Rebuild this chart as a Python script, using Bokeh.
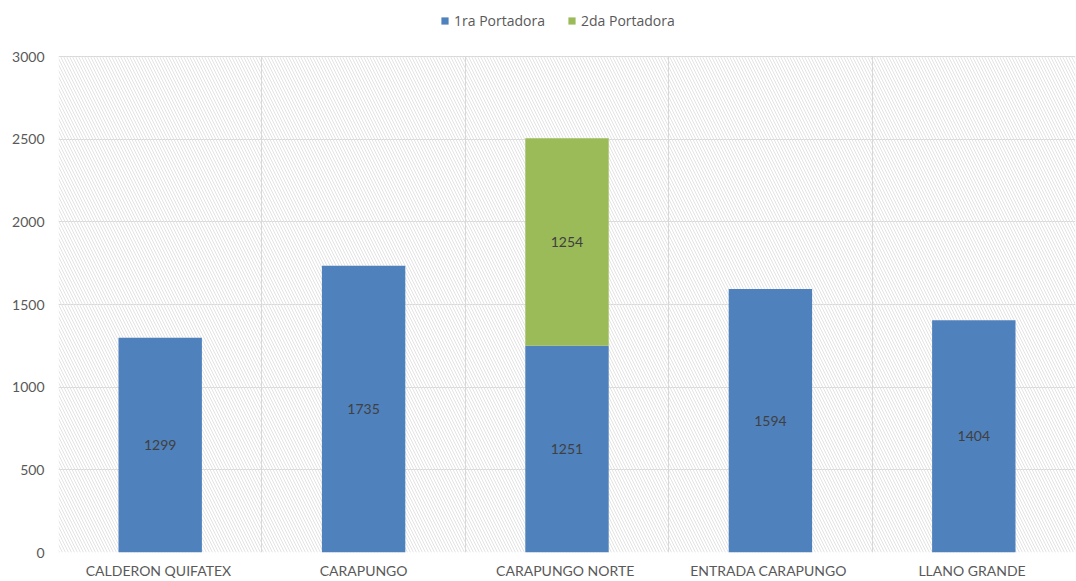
from bokeh.plotting import figure
from bokeh.models import (ColumnDataSource, Legend, LegendItem, FixedTicker, Grid,
                          BoxAnnotation, LabelSet, Range1d)
from bokeh.core.properties import value
from bokeh.embed import file_html
from bokeh.resources import INLINE

categories = ["CALDERON  QUIFATEX", "CARAPUNGO", "CARAPUNGO  NORTE",
              "ENTRADA  CARAPUNGO", "LLANO  GRANDE"]
portadora1 = [1299, 1735, 1251, 1594, 1404]
portadora2 = [0, 0, 1254, 0, 0]
series_names = ["1ra Portadora", "2da Portadora"]
colors = ["#4f81bd", "#9bbb59"]
y_ticks = [0, 500, 1000, 1500, 2000, 2500, 3000]
Y_MAX = 3000

FONT = "Lato"
n = len(categories)
xs = [i + 0.5 for i in range(n)]

# frame extends to the top of the canvas so the legend (drawn in the frame) is visible
FRAME_H = 552
TOP_GAP = 56
y_end = Y_MAX * FRAME_H / (FRAME_H - TOP_GAP)

src = ColumnDataSource(dict(x=xs, p1=portadora1, p2=portadora2))

p = figure(width=1076, height=581, output_backend="svg", toolbar_location=None,
           x_range=Range1d(0, n), y_range=Range1d(0, y_end),
           min_border_left=58, min_border_right=1, min_border_top=0, min_border_bottom=28)
p.outline_line_color = None
p.background_fill_color = "white"
p.border_fill_color = "white"

# hatched plot area
p.add_layout(BoxAnnotation(left=0, right=n, bottom=0, top=Y_MAX,
                           fill_alpha=0, line_color=None, hatch_pattern="\\",
                           hatch_color="#e3e3e3", hatch_scale=6, hatch_weight=1,
                           level="underlay"))

r = p.vbar_stack(["p1", "p2"], x="x", width=0.41, source=src, color=colors,
                 line_color=None)

# labels
lx, ly, lt = [], [], []
for i in range(n):
    base = 0
    for v in (portadora1[i], portadora2[i]):
        if v > 0:
            lx.append(xs[i]); ly.append(base + v / 2); lt.append(str(v))
        base += v
lsrc = ColumnDataSource(dict(x=lx, y=ly, t=lt))
p.add_layout(LabelSet(x="x", y="y", text="t", source=lsrc, text_align="center",
                      text_baseline="middle", text_font=value(FONT),
                      text_font_size=value("14px"), text_color="#404040"))

# axes
p.xaxis.ticker = FixedTicker(ticks=xs)
p.xaxis.major_label_overrides = {x: c for x, c in zip(xs, categories)}
p.yaxis.ticker = FixedTicker(ticks=y_ticks)
for ax in (p.xaxis, p.yaxis):
    ax.axis_line_color = None
    ax.major_tick_line_color = None
    ax.minor_tick_line_color = None
    ax.major_tick_out = 0
    ax.major_tick_in = 0
    ax.major_label_text_font = FONT
    ax.major_label_text_font_size = "14px"
    ax.major_label_text_color = "#595959"
p.yaxis.major_label_standoff = 14
p.xaxis.major_label_standoff = 9

p.xgrid.visible = False
p.ygrid.grid_line_color = "#d9d9d9"
p.ygrid.level = "underlay"
vgrid = Grid(dimension=0, ticker=FixedTicker(ticks=list(range(n + 1))),
             grid_line_color="#d9d9d9", level="underlay", cross_bounds=(0, Y_MAX))
p.add_layout(vgrid)

legend = Legend(items=[LegendItem(label=series_names[0], renderers=[r[0]]),
                       LegendItem(label=series_names[1], renderers=[r[1]])],
                orientation="horizontal", location=(382, 522),
                label_text_font="Open Sans", label_text_font_size="14px",
                label_text_color="#595959", border_line_color=None,
                glyph_width=9, glyph_height=9, spacing=22, padding=4,
                margin=0, label_standoff=5, background_fill_alpha=0)
p.add_layout(legend, "center")

open("out.html", "w").write(file_html(p, INLINE))
